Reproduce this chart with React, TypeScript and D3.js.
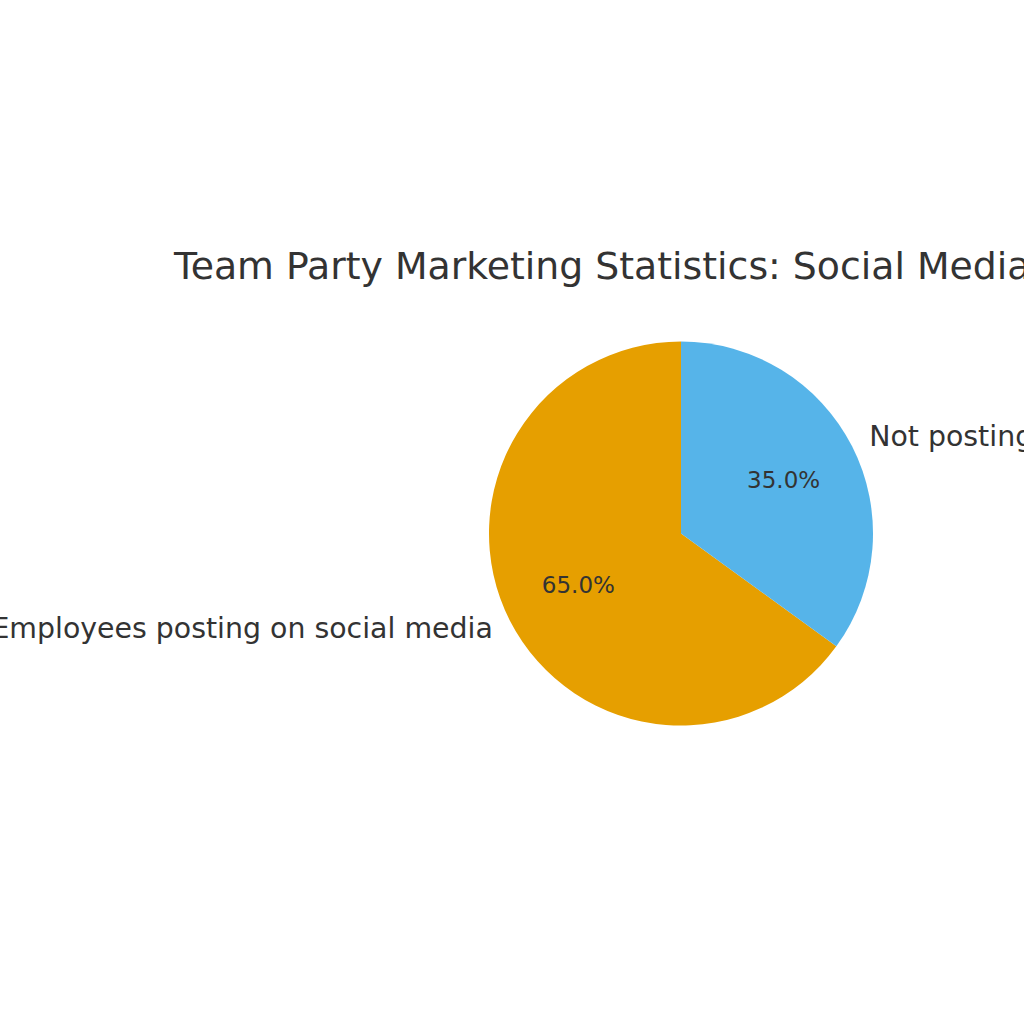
import React from "react";
import * as d3 from "d3";

const categories = ["Employees posting on social media", "Not posting on social media"];
const values = [65, 35];
const colors = ["#E69F00", "#56B4E9"];
const titleText = "Team Party Marketing Statistics: Social Media Engagement";

const W = 1024;
const H = 1024;
const cx = 681;
const cy = 533.5;
const R = 192;
const FONT = "'DejaVu Sans', sans-serif";
const TEXT = "#333333";

export default function App() {
  const total = d3.sum(values);
  // matplotlib: startangle 90, counterclockwise. d3 angles are clockwise from 12 o'clock,
  // so the first slice runs from 0 down to -share*2π.
  const pie = d3
    .pie<number>()
    .value((d) => d)
    .sort(null)
    .startAngle(0)
    .endAngle(-2 * Math.PI);
  const arcs = pie(values);
  const arc = d3.arc<d3.PieArcDatum<number>>().innerRadius(0).outerRadius(R);

  return (
    <svg
      width={W}
      height={H}
      viewBox={`0 0 ${W} ${H}`}
      style={{ position: "absolute", left: 0, top: 0, background: "#ffffff" }}
    >
      <rect x={0} y={0} width={W} height={H} fill="#ffffff" />
      <text x={174} y={278.5} fontFamily={FONT} fontSize={37.8} fill={TEXT}>
        {titleText}
      </text>
      <g transform={`translate(${cx},${cy})`}>
        {arcs.map((a, i) => (
          <path key={i} d={arc(a) || ""} fill={colors[i]} />
        ))}
        {arcs.map((a, i) => {
          const mid = (a.startAngle + a.endAngle) / 2;
          const lx = Math.sin(mid) * R * 1.1;
          const ly = -Math.cos(mid) * R * 1.1;
          const px = Math.sin(mid) * R * 0.6;
          const py = -Math.cos(mid) * R * 0.6;
          const pct = ((values[i] / total) * 100).toFixed(1) + "%";
          return (
            <g key={"t" + i}>
              <text
                x={lx}
                y={ly - 1}
                fontFamily={FONT}
                fontSize={28.4}
                fill={TEXT}
                textAnchor={lx > 0 ? "start" : "end"}
                dominantBaseline="central"
              >
                {categories[i]}
              </text>
              <text
                x={px}
                y={py - 1}
                fontFamily={FONT}
                fontSize={23}
                fill={TEXT}
                textAnchor="middle"
                dominantBaseline="central"
              >
                {pct}
              </text>
            </g>
          );
        })}
      </g>
    </svg>
  );
}
